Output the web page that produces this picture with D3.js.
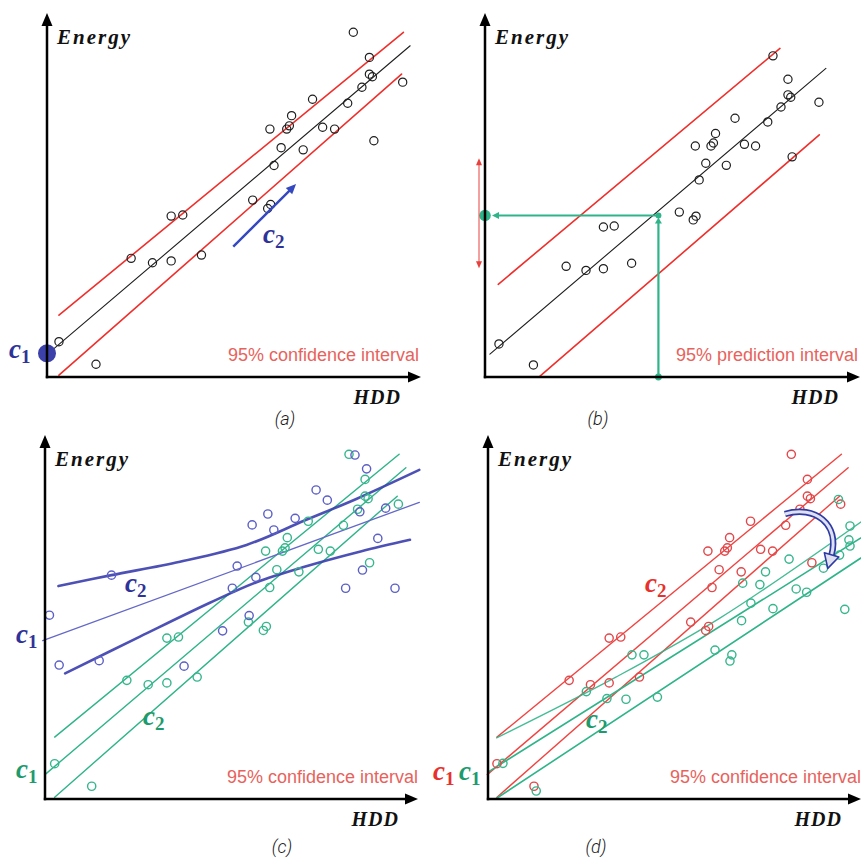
<!DOCTYPE html>
<html>
<head>
<meta charset="utf-8">
<script src="https://cdn.jsdelivr.net/npm/d3@7"></script>
<style>
  body { margin: 0; background: #fff; }
  svg { display: block; }
</style>
</head>
<body>
<svg id="fig" width="861" height="861"></svg>
<script>
// Base sample: heating degree days vs. energy use (panels a, b, green in c, red in d)
const hdd = [3.2, 13.1, 22.5, 28.2, 33.2, 36.3, 33.2, 41.3, 55.0, 59.8, 59.0, 59.6, 62.6, 60.7, 64.1,
             64.8, 65.4, 68.5, 71.0, 73.7, 76.9, 80.4, 81.9, 84.2, 86.2, 86.2, 87.0, 87.4, 95.1];
const energy = [9.7, 3.5, 32.6, 31.4, 44.2, 44.5, 31.9, 33.5, 48.6, 47.4, 46.3, 68.1, 63.0, 58.1, 68.1,
                69.0, 71.8, 62.4, 76.3, 68.6, 68.1, 75.2, 94.7, 79.6, 87.8, 83.2, 82.5, 64.9, 81.0];

// Second sample in (c): higher base load, flatter slope
const hddFlat = [1.8, 4.4, 15.1, 18.4, 37.8, 48.1, 50.7, 52.0, 55.2, 57.0, 56.0, 60.2, 61.8, 67.5,
                 73.1, 76.1, 81.0, 83.5, 84.8, 85.5, 86.6, 89.6, 91.7, 94.2];
const energyFlat = [50.5, 36.8, 38.0, 61.5, 36.5, 46.2, 57.9, 64.0, 50.4, 60.9, 75.3, 78.3, 73.9, 77.1,
                    84.9, 82.1, 57.9, 94.5, 78.9, 62.9, 90.7, 71.6, 79.9, 57.9];

// Second sample in (d): same base load, lower slope
const hddLow = [4.8, 13.7, 27.1, 32.6, 37.7, 39.3, 42.5, 46.1, 61.5, 65.5, 66.0, 68.6, 68.9, 71.1,
                73.5, 75.0, 77.0, 81.3, 83.2, 86.0, 90.5, 94.5, 94.8, 96.2, 97.3, 97.6, 97.6];
const energyLow = [9.8, 2.2, 29.5, 27.6, 27.4, 39.6, 39.6, 28.0, 40.9, 37.9, 39.6, 49.0, 59.3, 53.8,
                   58.9, 62.4, 52.3, 65.9, 57.7, 56.8, 63.4, 82.3, 67.0, 52.1, 71.2, 69.5, 75.0];

// Fitted lines and interval bounds, as [HDD, Energy] vertices
const fitLine = [[0.6, 6.7], [97.1, 91.0]];
const ciUpper = [[3.2, 17.0], [95.3, 94.7]];
const ciLower = [[3.2, 0.5], [94.8, 83.2]];
const piUpper = [[3.0, 27.3], [83.9, 96.9]];
const piLower = [[15.0, 0.2], [95.2, 71.4]];

const fitFlat = [[0.0, 43.5], [100.7, 81.5]];
const ciFlatUpper = [[4.2, 58.5], [18.4, 61.5], [36.7, 65.2], [54.5, 69.8], [70.0, 76.5], [84.0, 82.5], [100.7, 90.4]];
const ciFlatLower = [[6.0, 34.5], [26.0, 44.6], [44.7, 53.9], [57.0, 59.5], [70.0, 63.8], [85.0, 68.0], [98.2, 71.2]];

const fitLow = [[0.8, 7.4], [100.5, 71.7]];
const ciLowUpper = [[3.1, 16.8], [35.0, 33.5], [62.8, 49.7], [100.5, 76.1]];
const ciLowLower = [[3.1, 0.2], [100.5, 66.2]];

// Intercept c1 in (a), slope arrow c2 in (a)
const intercept = 6.5;
const slopeArrow = [[49.8, 35.8], [66.6, 53.0]];

// Prediction read-off in (b)
const predHDD = 49.0, predEnergy = 47.6;
const predRange = [32.0, 64.5];

// Slope change arrow in (d)
const turnArrow = [[80.2, 78.3], [88.2, 80.8], [95.0, 75.5], [92.6, 66.8]];

const COL = {
  ink: '#1e1e1e',
  red: '#ef2f2b', redText: '#e8625c', redMark: '#e2474a', redLabel: '#e8302c',
  blue: '#3a3eae', blueThin: '#6468c8', blueMark: '#5b5fc6', blueLabel: '#2f3399',
  green: '#2fb48a', greenMark: '#36b68d', greenLabel: '#1d9b6d'
};

const svg = d3.select('#fig');

// Panel frames (origin at axis corner, y grows upward)
const frames = {
  a: { ox: 47,  oy: 377, xr: [0, 374],     yr: [0, 364],     len: [374, 364] },
  b: { ox: 485, oy: 377, xr: [2.8, 351],   yr: [0.2, 339.1], len: [375, 364] },
  c: { ox: 45,  oy: 799, xr: [-2.3, 371.7], yr: [0, 364],    len: [373, 364] },
  d: { ox: 488, oy: 799, xr: [-3, 371],    yr: [0, 364],     len: [373, 364] }
};

function makePanel(f) {
  const g = svg.append('g').attr('transform', `translate(${f.ox},${f.oy})`);
  const x = d3.scaleLinear().domain([0, 100]).range(f.xr);
  const y = d3.scaleLinear().domain([0, 100]).range([-f.yr[0], -f.yr[1]]);
  return { f, g, x, y, lines: g.append('g'), marks: g.append('g'), axes: g.append('g') };
}

function pathOf(P, pts, curve) {
  return d3.line().x(d => P.x(d[0])).y(d => P.y(d[1])).curve(curve || d3.curveLinear)(pts);
}

function drawLine(P, pts, color, width, curve, opacity) {
  P.lines.append('path')
    .attr('d', pathOf(P, pts, curve))
    .attr('fill', 'none')
    .attr('stroke', color)
    .attr('stroke-width', width)
    .attr('stroke-opacity', opacity == null ? 1 : opacity)
    .attr('stroke-linecap', 'round');
}

function drawPoints(P, xs, ys, color, width) {
  P.marks.append('g').selectAll('circle')
    .data(d3.zip(xs, ys))
    .join('circle')
    .attr('cx', d => P.x(d[0]))
    .attr('cy', d => P.y(d[1]))
    .attr('r', 4.1)
    .attr('fill', 'none')
    .attr('stroke', color)
    .attr('stroke-width', width);
}

function drawAxes(P) {
  const [lx, ly] = P.f.len;
  const a = P.axes;
  a.append('line').attr('x1', -1.2).attr('y1', 0).attr('x2', lx - 8).attr('y2', 0)
    .attr('stroke', '#000').attr('stroke-width', 2.5);
  a.append('line').attr('x1', 0).attr('y1', 1.2).attr('x2', 0).attr('y2', -ly + 8)
    .attr('stroke', '#000').attr('stroke-width', 2.5);
  a.append('path').attr('d', `M${lx},0L${lx - 13},-5.5L${lx - 13},5.5Z`).attr('fill', '#000');
  a.append('path').attr('d', `M0,${-ly}L-5.5,${-ly + 13}L5.5,${-ly + 13}Z`).attr('fill', '#000');
  a.append('text').attr('x', 10).attr('y', -ly + 31)
    .attr('font-family', 'Liberation Serif, DejaVu Serif, serif')
    .attr('font-style', 'italic').attr('font-weight', 'bold')
    .attr('font-size', 21).attr('letter-spacing', 2)
    .attr('fill', '#111').text('Energy');
  a.append('text').attr('x', 354).attr('y', 27).attr('text-anchor', 'end')
    .attr('font-family', 'Liberation Serif, DejaVu Serif, serif')
    .attr('font-style', 'italic').attr('font-weight', 'bold')
    .attr('font-size', 20).attr('letter-spacing', 1)
    .attr('fill', '#111').text('HDD');
}

function noteText(x, y, str) {
  svg.append('text').attr('x', x).attr('y', y)
    .attr('font-family', 'Liberation Sans, Arial, sans-serif')
    .attr('font-size', 18).attr('fill', COL.redText).text(str);
}

function cLabel(x, y, sub, color) {
  const t = svg.append('text').attr('x', x).attr('y', y).attr('fill', color)
    .attr('font-family', 'Liberation Serif, DejaVu Serif, serif').attr('font-weight', 'bold');
  t.append('tspan').attr('font-style', 'italic').attr('font-size', 27).text('c');
  t.append('tspan').attr('font-size', 19).attr('dy', 5).text(sub);
}

function panelTag(x, y, str) {
  svg.append('text').attr('x', x).attr('y', y).attr('text-anchor', 'middle')
    .attr('font-family', 'Roboto, Open Sans, sans-serif')
    .attr('font-style', 'italic').attr('font-weight', 300)
    .attr('font-size', 18).attr('fill', '#1a1a1a').text(str);
}

function arrowHead(g, tip, from, len, half, color, fill, sw) {
  const dx = tip[0] - from[0], dy = tip[1] - from[1];
  const n = Math.hypot(dx, dy), ux = dx / n, uy = dy / n;
  const bx = tip[0] - ux * len, by = tip[1] - uy * len;
  g.append('path')
    .attr('d', `M${tip[0]},${tip[1]}L${bx - uy * half},${by + ux * half}L${bx + uy * half},${by - ux * half}Z`)
    .attr('fill', fill || color).attr('stroke', color).attr('stroke-width', sw || 0)
    .attr('stroke-linejoin', 'round');
}

// ---------- (a) confidence interval of the fit ----------
const A = makePanel(frames.a);
drawLine(A, ciUpper, COL.red, 1.6);
drawLine(A, ciLower, COL.red, 1.6);
drawLine(A, fitLine, COL.ink, 1.1);
drawPoints(A, hdd, energy, COL.ink, 1.2);
{
  const p0 = [A.x(slopeArrow[0][0]), A.y(slopeArrow[0][1])];
  const p1 = [A.x(slopeArrow[1][0]), A.y(slopeArrow[1][1])];
  A.marks.append('line').attr('x1', p0[0]).attr('y1', p0[1])
    .attr('x2', p1[0] - (p1[0] - p0[0]) * 0.08).attr('y2', p1[1] - (p1[1] - p0[1]) * 0.08)
    .attr('stroke', '#3448c0').attr('stroke-width', 2.4);
  arrowHead(A.marks, p1, p0, 10, 4.5, '#3448c0');
  A.marks.append('circle').attr('cx', A.x(0)).attr('cy', A.y(intercept)).attr('r', 9)
    .attr('fill', '#3c40aa');
}
drawAxes(A);
noteText(228, 361, '95% confidence interval');
cLabel(9, 358, '1', COL.blueLabel);
cLabel(263, 243, '2', COL.blueLabel);
panelTag(285, 425, '(a)');

// ---------- (b) prediction interval ----------
const B = makePanel(frames.b);
drawLine(B, piUpper, COL.red, 1.6);
drawLine(B, piLower, COL.red, 1.6);
drawLine(B, fitLine, COL.ink, 1.1);
drawPoints(B, hdd, energy, COL.ink, 1.2);
{
  const gx = B.x(predHDD), gy = B.y(predEnergy), gx0 = B.x(0) - B.f.xr[0];
  const gc = COL.green;
  B.marks.append('line').attr('x1', gx).attr('y1', 0).attr('x2', gx).attr('y2', gy + 6)
    .attr('stroke', gc).attr('stroke-width', 2.2);
  arrowHead(B.marks, [gx, gy + 2], [gx, gy + 20], 6, 3.5, gc);
  B.marks.append('line').attr('x1', gx).attr('y1', gy).attr('x2', gx0 + 12).attr('y2', gy)
    .attr('stroke', gc).attr('stroke-width', 2.2);
  arrowHead(B.marks, [gx0 + 7, gy], [gx0 + 30, gy], 7, 3.5, gc);
  B.marks.append('circle').attr('cx', gx).attr('cy', 0).attr('r', 3.4).attr('fill', gc);
  B.marks.append('circle').attr('cx', gx).attr('cy', gy).attr('r', 3).attr('fill', gc);
  B.marks.append('circle').attr('cx', gx0).attr('cy', gy).attr('r', 5.8).attr('fill', gc);
  // spread of the prediction
  const rx = gx0 - 6, ry0 = B.y(predRange[1]), ry1 = B.y(predRange[0]);
  B.marks.append('line').attr('x1', rx).attr('y1', ry0 + 5).attr('x2', rx).attr('y2', ry1 - 5)
    .attr('stroke', '#e8403c').attr('stroke-width', 1);
  arrowHead(B.marks, [rx, ry0], [rx, ry1], 7, 3, '#e8403c');
  arrowHead(B.marks, [rx, ry1], [rx, ry0], 7, 3, '#e8403c');
}
drawAxes(B);
noteText(676, 361, '95% prediction interval');
panelTag(598, 425, '(b)');

// ---------- (c) two fits: different base load and slope ----------
const C = makePanel(frames.c);
drawLine(C, ciUpper, COL.green, 1.4);
drawLine(C, ciLower, COL.green, 1.4);
drawLine(C, fitLine, COL.green, 1.4);
drawLine(C, ciFlatUpper, COL.blue, 2.6, d3.curveCatmullRom, 0.9);
drawLine(C, ciFlatLower, COL.blue, 2.6, d3.curveCatmullRom, 0.9);
drawLine(C, fitFlat, COL.blueThin, 1.3);
drawPoints(C, hdd, energy, COL.greenMark, 1.4);
drawPoints(C, hddFlat, energyFlat, COL.blueMark, 1.4);
drawAxes(C);
noteText(227, 783, '95% confidence interval');
cLabel(16, 643, '1', COL.blueLabel);
cLabel(125, 592, '2', COL.blueLabel);
cLabel(16, 778, '1', COL.greenLabel);
cLabel(143, 725, '2', COL.greenLabel);
panelTag(282, 853, '(c)');

// ---------- (d) two fits: same base load, different slope ----------
const D = makePanel(frames.d);
drawLine(D, ciUpper, COL.red, 1.4, null, 0.9);
drawLine(D, ciLower, COL.red, 1.4, null, 0.9);
drawLine(D, fitLine, COL.red, 1.4, null, 0.9);
drawLine(D, ciLowUpper, COL.green, 1.3, d3.curveCatmullRom, 0.9);
drawLine(D, ciLowLower, COL.green, 1.6);
drawLine(D, fitLow, COL.green, 1.6);
drawPoints(D, hdd, energy, COL.redMark, 1.4);
drawPoints(D, hddLow, energyLow, COL.greenMark, 1.4);
{
  const q = turnArrow.map(d => [D.x(d[0]), D.y(d[1])]);
  const body = `M${q[0][0]},${q[0][1]}C${q[1][0]},${q[1][1]} ${q[2][0]},${q[2][1]} ${q[3][0]},${q[3][1]}`;
  D.marks.append('path').attr('d', body).attr('fill', 'none')
    .attr('stroke', '#2e3aa6').attr('stroke-width', 6.5);
  D.marks.append('path').attr('d', body).attr('fill', 'none')
    .attr('stroke', '#dfe2ee').attr('stroke-width', 3);
  const dir = [q[3][0] - q[2][0], q[3][1] - q[2][1]];
  const n = Math.hypot(dir[0], dir[1]);
  const tip = [q[3][0] + dir[0] / n * 13, q[3][1] + dir[1] / n * 13];
  arrowHead(D.marks, tip, q[2], 14, 7.5, '#2e3aa6', '#dfe2ee', 1.6);
}
drawAxes(D);
noteText(670, 783, '95% confidence interval');
cLabel(433, 780, '1', COL.redLabel);
cLabel(459, 780, '1', COL.greenLabel);
cLabel(586, 728, '2', COL.greenLabel);
cLabel(645, 592, '2', COL.redLabel);
panelTag(596, 853, '(d)');
</script>
</body>
</html>
